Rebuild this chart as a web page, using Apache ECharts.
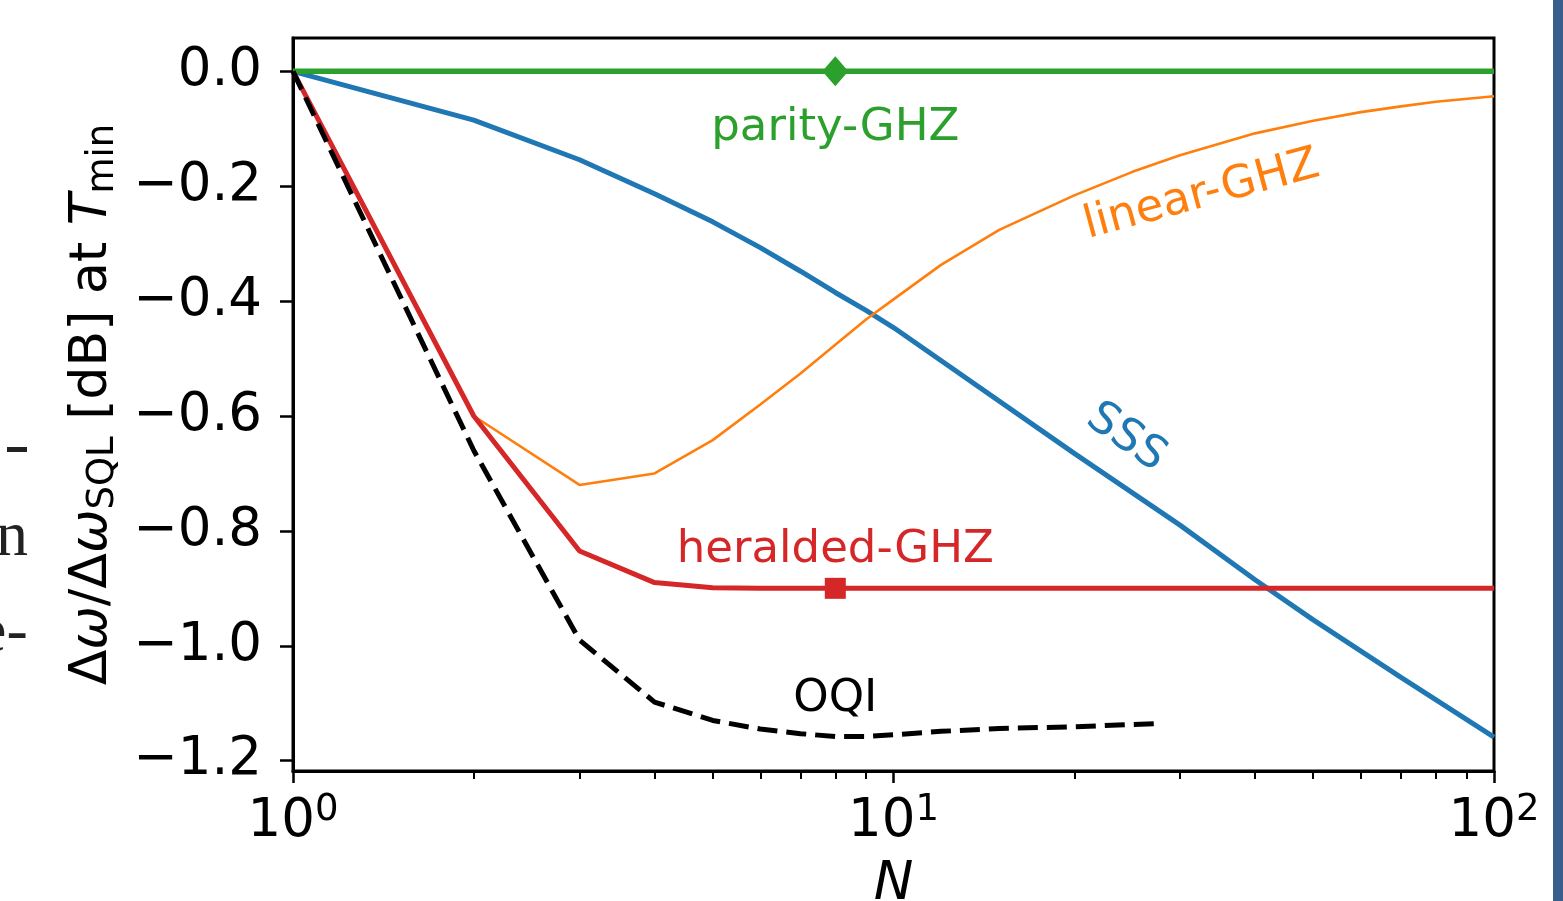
<!DOCTYPE html>
<html lang="en">
<head>
    <meta charset="UTF-8">
    <title>Δω/ΔωSQL at Tmin vs N</title>
    <style>
        html, body { margin: 0; padding: 0; background: #fff; }
        #one { width: 1563px; height: 901px; }
    </style>
</head>
<body>
    <div id="one"></div>

    <script src="https://cdn.jsdelivr.net/npm/echarts@6/dist/echarts.min.js"></script>
    <script>
    // values
    var sssN   = [1, 2, 3, 4, 5, 6, 7, 8, 9, 10, 20, 30, 40, 50, 70, 100];
    var sssVal = [0, -0.085, -0.154, -0.213, -0.262, -0.307, -0.348, -0.385, -0.416, -0.446,
                  -0.665, -0.79, -0.885, -0.955, -1.055, -1.159];

    var linN   = [2, 3, 4, 5, 6, 7, 8, 9, 10, 12, 15, 20, 25, 30, 40, 50, 60, 70, 80, 100];
    var linVal = [-0.6, -0.72, -0.70, -0.642, -0.58, -0.526, -0.476, -0.432, -0.397, -0.337,
                  -0.276, -0.216, -0.175, -0.146, -0.108, -0.086, -0.071, -0.061, -0.053, -0.0435];

    var parN   = [1, 100];
    var parVal = [0, 0];

    var herN   = [1, 2, 3, 4, 5, 6, 8, 10, 100];
    var herVal = [0, -0.6, -0.835, -0.89, -0.899, -0.9, -0.9, -0.9, -0.9];

    var oqiN   = [1, 2, 3, 4, 5, 6, 7, 8, 9, 10, 12, 15, 20, 25, 28];
    var oqiVal = [0, -0.66, -0.99, -1.098, -1.13, -1.145, -1.153, -1.158, -1.158, -1.155,
                  -1.149, -1.144, -1.141, -1.137, -1.135];

    var markerN  = 8;
    var yTicks   = [-1.2, -1.0, -0.8, -0.6, -0.4, -0.2, 0.0];
    var xMinor   = [2, 3, 4, 5, 6, 7, 8, 9, 20, 30, 40, 50, 60, 70, 80, 90];

    var FONT = 'DejaVu Sans';
    var C = { sss: '#1f77b4', lin: '#ff7f0e', par: '#2ca02c', her: '#d62728', oqi: '#000000' };

    function pairs(xs, ys) {
        return xs.map(function (x, i) { return [x, ys[i]]; });
    }

    function tag(text, n, v, color, rot) {
        return {
            symbol: 'circle',
            symbolSize: 1,
            silent: true,
            itemStyle: { color: 'rgba(0,0,0,0)' },
            label: {
                show: true, position: 'inside', formatter: text,
                color: color, fontSize: 45, fontFamily: FONT, rotate: rot || 0
            },
            data: [{ coord: [n, v] }]
        };
    }

    var grid = { left: 293, right: 69, top: 38, bottom: 130, containLabel: false, outerBoundsMode: 'none' };

    var option = {
        animation: false,
        backgroundColor: '#fff',
        grid: [
            Object.assign({ show: true, borderColor: '#000', borderWidth: 3, backgroundColor: 'transparent' }, grid),
            Object.assign({ show: false }, grid)
        ],
        xAxis: [{
            type: 'log', logBase: 10, min: 1, max: 100, gridIndex: 0,
            name: 'N', nameLocation: 'middle', nameGap: 88,
            nameTextStyle: { fontFamily: FONT, fontSize: 53, fontStyle: 'italic', color: '#000' },
            axisLine: { show: true, onZero: false, lineStyle: { color: '#000', width: 3 } },
            axisTick: { show: true, inside: false, length: 12, lineStyle: { color: '#000', width: 2.5 } },
            splitLine: { show: false },
            minorTick: { show: false },
            axisLabel: {
                margin: 21,
                formatter: function (v) {
                    return '{m|10}{e|' + Math.round(Math.log10(v)) + '}';
                },
                rich: {
                    m: { fontFamily: FONT, fontSize: 53, color: '#000', lineHeight: 60 },
                    e: { fontFamily: FONT, fontSize: 37, color: '#000', lineHeight: 28, verticalAlign: 'top' }
                }
            }
        }, {
            type: 'log', logBase: 10, min: 1, max: 100, gridIndex: 1,
            axisLine: { show: false, onZero: false },
            axisLabel: { show: false },
            splitLine: { show: false },
            axisTick: { show: true, inside: false, length: 8, customValues: xMinor,
                        lineStyle: { color: '#000', width: 2 } }
        }],
        yAxis: [{
            type: 'value', min: -1.218, max: 0.058, gridIndex: 0,
            name: '{a|Δ}{i|ω}{a|/Δ}{i|ω}{s|SQL}{a| [dB] at }{i|T}{s|min}',
            nameLocation: 'middle', nameGap: 171,
            nameTextStyle: {
                rich: {
                    a: { fontFamily: FONT, fontSize: 52, color: '#000', lineHeight: 60 },
                    i: { fontFamily: FONT, fontSize: 52, color: '#000', lineHeight: 60, fontStyle: 'italic' },
                    s: { fontFamily: FONT, fontSize: 37, color: '#000', lineHeight: 30, verticalAlign: 'bottom' }
                }
            },
            axisLine: { show: true, onZero: false, lineStyle: { color: '#000', width: 3 } },
            axisTick: { show: true, inside: false, length: 13, customValues: yTicks,
                        lineStyle: { color: '#000', width: 2.5 } },
            splitLine: { show: false },
            axisLabel: {
                margin: 31, customValues: yTicks,
                fontFamily: FONT, fontSize: 53, color: '#000',
                formatter: function (v) {
                    return (v < -1e-9 ? '\u2212' : '') + Math.abs(v).toFixed(1);
                }
            }
        }, {
            type: 'value', min: -1.218, max: 0.058, gridIndex: 1, show: false
        }],
        series: [{
            name: 'SSS', type: 'line', data: pairs(sssN, sssVal),
            symbol: 'none', lineStyle: { color: C.sss, width: 5 },
            markPoint: tag('SSS', 24.4, -0.638, C.sss, -35)
        }, {
            name: 'linear-GHZ', type: 'line', data: pairs(linN, linVal),
            symbol: 'none', lineStyle: { color: C.lin, width: 2.6 },
            markPoint: tag('linear-GHZ', 32.6, -0.216, C.lin, 15)
        }, {
            name: 'parity-GHZ', type: 'line', data: pairs(parN, parVal),
            symbol: 'none', lineStyle: { color: C.par, width: 5.5 },
            markPoint: tag('parity-GHZ', 8, -0.099, C.par, 0)
        }, {
            name: 'heralded-GHZ', type: 'line', data: pairs(herN, herVal),
            symbol: 'none', lineStyle: { color: C.her, width: 5 },
            markPoint: tag('heralded-GHZ', 8, -0.833, C.her, 0)
        }, {
            name: 'OQI', type: 'line', data: pairs(oqiN, oqiVal),
            symbol: 'none', lineStyle: { color: C.oqi, width: 5, type: [20, 9] },
            markPoint: tag('OQI', 8, -1.094, C.oqi, 0)
        }, {
            type: 'scatter', data: [[markerN, parVal[0]]],
            symbol: 'diamond', symbolSize: [26, 30], itemStyle: { color: C.par, opacity: 1 }, z: 5
        }, {
            type: 'scatter', data: [[markerN, herVal[herVal.length - 1]]],
            symbol: 'rect', symbolSize: 21, itemStyle: { color: C.her, opacity: 1 }, z: 5
        }],
        graphic: [
            { type: 'rect', right: 0, top: 0, shape: { width: 10, height: 901 },
              style: { fill: '#3a5e8c' }, silent: true },
            { type: 'text', x: -4, y: 538,
              style: { text: 'n', font: '64px "Liberation Serif"', fill: '#222', verticalAlign: 'middle' } },
            { type: 'text', x: -22, y: 634,
              style: { text: 'e-', font: '64px "Liberation Serif"', fill: '#222', verticalAlign: 'middle' } },
            { type: 'rect', x: 7, y: 447, shape: { width: 20, height: 5 }, style: { fill: '#222' } }
        ]
    };

    var chart = echarts.init(document.getElementById('one'));
    chart.setOption(option);
    </script>
</body>
</html>
